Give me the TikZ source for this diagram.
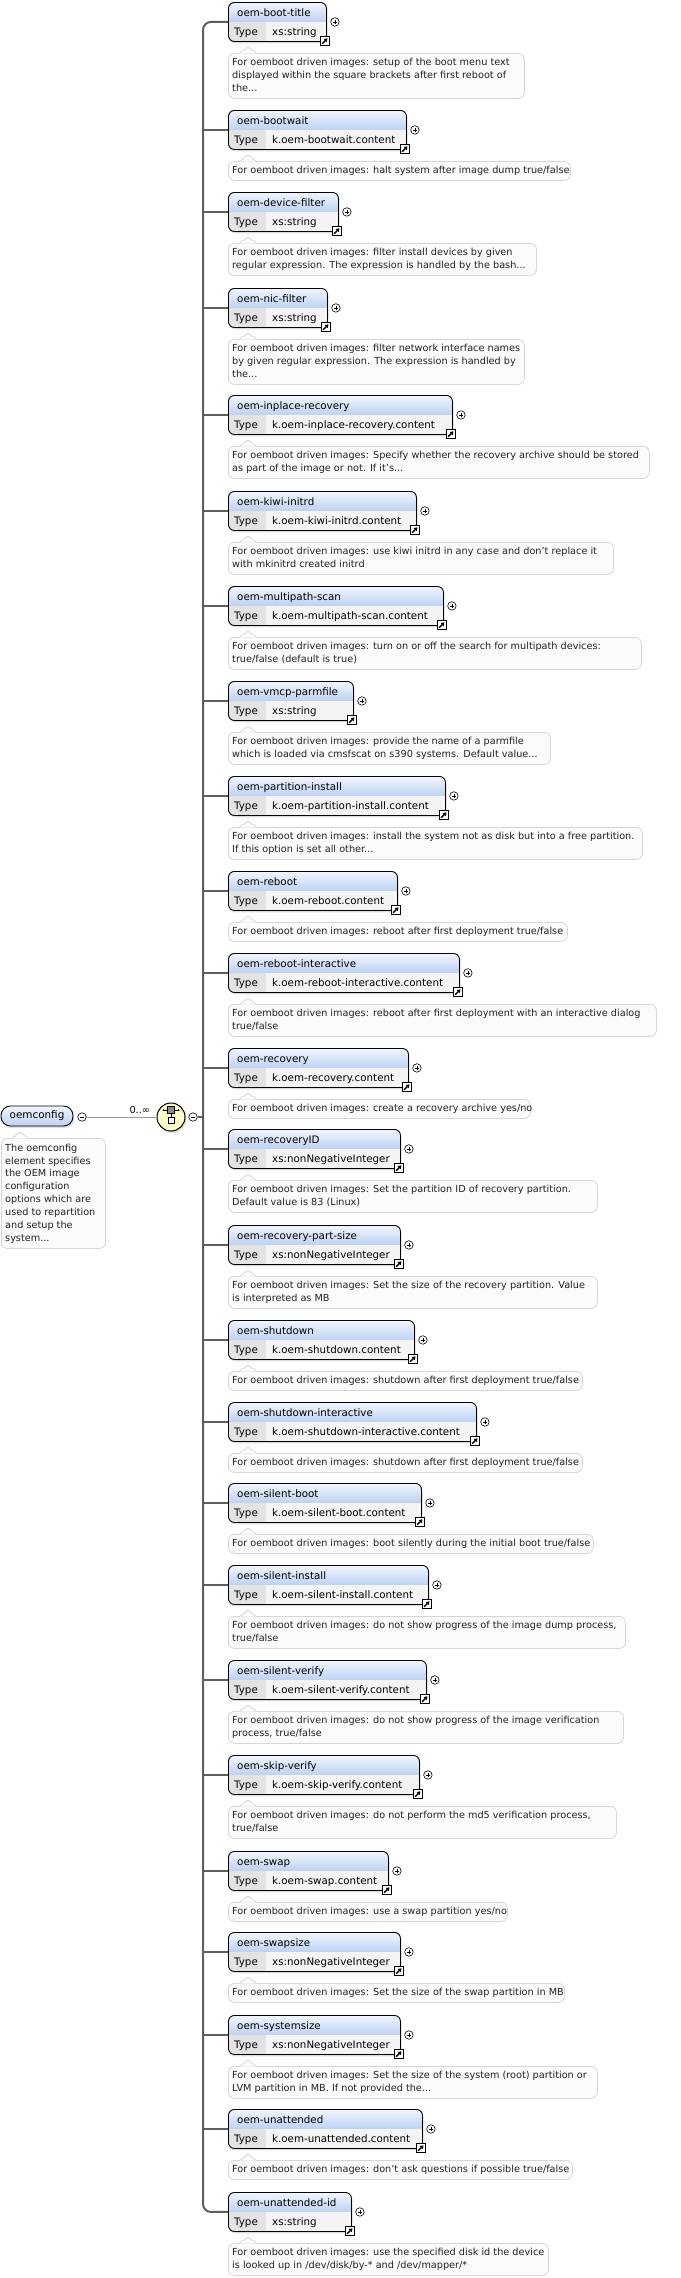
\documentclass[tikz,border=0pt]{standalone}
\usepackage{fontspec}
\setmainfont{DejaVu Sans}
\usetikzlibrary{shadows,arrows.meta}
\definecolor{hdtop}{HTML}{F2F6FD}
\definecolor{hdbot}{HTML}{BCD1F3}
\definecolor{keycell}{HTML}{E3E3E3}
\definecolor{valcell}{HTML}{F4F4F4}
\definecolor{descfill}{HTML}{FBFBFB}
\definecolor{descline}{HTML}{D6D6D6}
\definecolor{spinecol}{HTML}{5E5E5E}
\definecolor{seqfill}{HTML}{FFFFCC}
\definecolor{txtcol}{HTML}{222222}

\begin{document}
\begin{tikzpicture}[x=1pt,y=-1pt,
elem/.style={draw,line width=.9pt,rounded corners=6pt,minimum height=39pt,inner sep=0pt,anchor=north west,
  drop shadow={shadow xshift=1.2pt,shadow yshift=-2pt,fill=black!50,opacity=.28},
  path picture={
    \fill[valcell,sharp corners] (path picture bounding box.north west) rectangle (path picture bounding box.south east);
    \shade[top color=hdtop,bottom color=hdbot,sharp corners] (path picture bounding box.north west) rectangle ([yshift=-19.5pt]path picture bounding box.north east);
    \fill[keycell,sharp corners] ([yshift=-19.5pt]path picture bounding box.north west) rectangle ([xshift=38pt]path picture bounding box.south west);
  }},
eltxt/.style={anchor=base west,inner sep=0pt,font=\fontsize{10.3}{12}\selectfont},
descbox/.style={draw=descline,fill=descfill,line width=.8pt,rounded corners=6pt,anchor=north west,inner sep=0pt},
desctxt/.style={anchor=north west,align=left,inner sep=0pt,text=txtcol,font=\fontsize{9.7}{12.9}\selectfont},
pm/.style={circle,draw,fill=white,minimum size=8.5pt,inner sep=0pt,line width=.6pt},
plus/.style={pm,path picture={\draw[line width=.7pt] ([xshift=-2.3pt]path picture bounding box.center) -- ([xshift=2.3pt]path picture bounding box.center) ([yshift=-2.3pt]path picture bounding box.center) -- ([yshift=2.3pt]path picture bounding box.center);}},
minus/.style={pm,path picture={\draw[line width=.7pt] ([xshift=-2.3pt]path picture bounding box.center) -- ([xshift=2.3pt]path picture bounding box.center);}},
lnk/.style={draw,fill=white,minimum size=9.5pt,inner sep=0pt,line width=.8pt,
  path picture={\draw[line width=1.4pt,-{Triangle[length=3.2pt,width=4pt]}] ([shift={(-2.8pt,-2.8pt)}]path picture bounding box.center) -- ([shift={(2.6pt,2.6pt)}]path picture bounding box.center);}},
spine/.style={draw=spinecol,line width=2pt},
thinline/.style={draw=black!40,line width=.8pt},
root/.style={draw,line width=.9pt,rounded corners=9.5pt,minimum width=72pt,minimum height=20pt,inner sep=0pt,
  top color=hdtop,bottom color=hdbot,drop shadow={shadow xshift=1.2pt,shadow yshift=-2pt,fill=black!50,opacity=.28},
  font=\fontsize{10.4}{12}\selectfont},
seq/.style={circle,draw,line width=1pt,minimum size=28pt,inner sep=0pt,fill=seqfill,
  drop shadow={shadow xshift=1.2pt,shadow yshift=-2pt,fill=black!50,opacity=.28}}]
\useasboundingbox (0,0) rectangle (680,2278);
\foreach \n/\yy/\nm/\ty/\w/\dw/\nl/\ds in {
1/2/{oem-boot-title}/{xs:string}/98/296/3/{For oemboot driven images: setup of the boot menu text\\displayed within the square brackets after first reboot of\\the...},
2/110/{oem-bootwait}/{k.oem-bootwait.content}/178/342/1/{For oemboot driven images: halt system after image dump true/false},
3/192/{oem-device-filter}/{xs:string}/110/308/2/{For oemboot driven images: filter install devices by given\\regular expression. The expression is handled by the bash...},
4/288/{oem-nic-filter}/{xs:string}/99/296/3/{For oemboot driven images: filter network interface names\\by given regular expression. The expression is handled by\\the...},
5/395/{oem-inplace-recovery}/{k.oem-inplace-recovery.content}/224/421/2/{For oemboot driven images: Specify whether the recovery archive should be stored\\as part of the image or not. If it's...},
6/491/{oem-kiwi-initrd}/{k.oem-kiwi-initrd.content}/188/385/2/{For oemboot driven images: use kiwi initrd in any case and don't replace it\\with mkinitrd created initrd},
7/586/{oem-multipath-scan}/{k.oem-multipath-scan.content}/215/413/2/{For oemboot driven images: turn on or off the search for multipath devices:\\true/false (default is true)},
8/681/{oem-vmcp-parmfile}/{xs:string}/125/322/2/{For oemboot driven images: provide the name of a parmfile\\which is loaded via cmsfscat on s390 systems. Default value...},
9/776/{oem-partition-install}/{k.oem-partition-install.content}/217/414/2/{For oemboot driven images: install the system not as disk but into a free partition.\\If this option is set all other...},
10/871/{oem-reboot}/{k.oem-reboot.content}/169/339/1/{For oemboot driven images: reboot after first deployment true/false},
11/953/{oem-reboot-interactive}/{k.oem-reboot-interactive.content}/231/428/2/{For oemboot driven images: reboot after first deployment with an interactive dialog\\true/false},
12/1048/{oem-recovery}/{k.oem-recovery.content}/180/302/1/{For oemboot driven images: create a recovery archive yes/no},
13/1129/{oem-recoveryID}/{xs:nonNegativeInteger}/172/369/2/{For oemboot driven images: Set the partition ID of recovery partition.\\Default value is 83 (Linux)},
14/1225/{oem-recovery-part-size}/{xs:nonNegativeInteger}/172/369/2/{For oemboot driven images: Set the size of the recovery partition. Value\\is interpreted as MB},
15/1320/{oem-shutdown}/{k.oem-shutdown.content}/186/354/1/{For oemboot driven images: shutdown after first deployment true/false},
16/1402/{oem-shutdown-interactive}/{k.oem-shutdown-interactive.content}/248/354/1/{For oemboot driven images: shutdown after first deployment true/false},
17/1483/{oem-silent-boot}/{k.oem-silent-boot.content}/193/365/1/{For oemboot driven images: boot silently during the initial boot true/false},
18/1565/{oem-silent-install}/{k.oem-silent-install.content}/200/397/2/{For oemboot driven images: do not show progress of the image dump process,\\true/false},
19/1660/{oem-silent-verify}/{k.oem-silent-verify.content}/198/395/2/{For oemboot driven images: do not show progress of the image verification\\process, true/false},
20/1755/{oem-skip-verify}/{k.oem-skip-verify.content}/191/388/2/{For oemboot driven images: do not perform the md5 verification process,\\true/false},
21/1851/{oem-swap}/{k.oem-swap.content}/160/279/1/{For oemboot driven images: use a swap partition yes/no},
22/1932/{oem-swapsize}/{xs:nonNegativeInteger}/172/336/1/{For oemboot driven images: Set the size of the swap partition in MB},
23/2015/{oem-systemsize}/{xs:nonNegativeInteger}/172/369/2/{For oemboot driven images: Set the size of the system (root) partition or\\LVM partition in MB. If not provided the...},
24/2109/{oem-unattended}/{k.oem-unattended.content}/194/344/1/{For oemboot driven images: don't ask questions if possible true/false},
25/2192/{oem-unattended-id}/{xs:string}/123/320/2/{For oemboot driven images: use the specified disk id the device\\is looked up in /dev/disk/by-* and /dev/mapper/*}}{
\node[elem,minimum width=\w pt] (n\n) at (228,\yy) {};
\node[eltxt] at ([shift={(9,14.3)}]n\n.north west) {\nm};
\node[eltxt] at ([shift={(6,33.3)}]n\n.north west) {Type};
\node[eltxt] at ([shift={(44,33.3)}]n\n.north west) {\ty};
\node[plus] at ([xshift=8pt]n\n.east) {};
\node[lnk] at ([shift={(-2,-1)}]n\n.south east) {};
\node[descbox,minimum width=\dw pt,minimum height={(6+13*\nl)*1pt}] (d\n) at (228,\yy+51) {};
\fill[descfill] ([shift={(12,.6)}]d\n.north west) -- ++(8,-6.6) -- ++(8,6.6) -- cycle;
\draw[descline,line width=.8pt] ([xshift=12pt]d\n.north west) -- ++(8,-6) -- ++(8,6);
\node[desctxt] at ([shift={(4,5.3)}]d\n.north west) {\ds};
}
\coordinate (spine) at (203,1117);
\draw[spine,rounded corners=8pt] (n1.west) -| (spine) |- (n25.west);
\foreach \n in {2,...,24}{\draw[spine] (n\n.west -| spine) -- (n\n.west);}
\node[root] (root) at (37,1116) {oemconfig};
\node[minus] (rm) at (82,1117) {};
\node[seq] (seq) at (171,1117) {};
\node[minus] (sm) at (193,1117) {};
\draw[thinline] (rm) -- node[above,pos=.76,inner sep=2.5pt,font=\fontsize{9.7}{12}\selectfont] {0..∞} (seq);
\draw[spine] (sm) -- (spine);
\draw[line width=.7pt] (163.5,1110) -- (178.5,1110);
\fill (163.5,1110) circle (1pt) (178.5,1110) circle (1pt);
\draw[line width=.7pt] (171,1113) -- (171,1117);
\filldraw[fill=black!45,line width=.6pt] (167.5,1106.5) rectangle (174.5,1113.5);
\filldraw[fill=white,line width=.7pt] (168,1117) rectangle (174,1123);
\node[descbox,minimum width=104pt,minimum height=110pt] (rd) at (1,1138) {};
\fill[descfill] ([shift={(11,.6)}]rd.north west) -- ++(8,-6.6) -- ++(8,6.6) -- cycle;
\draw[descline,line width=.8pt] ([xshift=11pt]rd.north west) -- ++(8,-6) -- ++(8,6);
\node[desctxt,font=\fontsize{9.7}{12.85}\selectfont] at ([shift={(4,5.6)}]rd.north west) {The oemconfig\\element specifies\\the OEM image\\configuration\\options which are\\used to repartition\\and setup the\\system...};
\end{tikzpicture}
\end{document}
